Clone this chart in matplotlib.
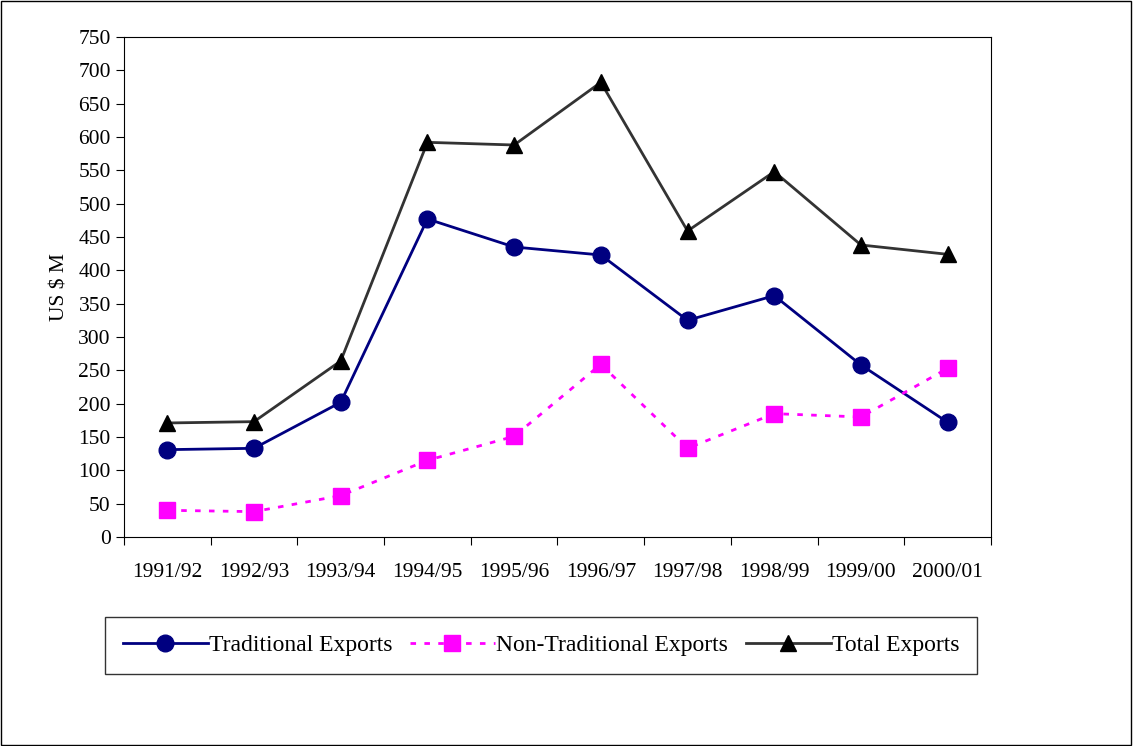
"""
Exports by category, 1991/92 - 2000/01
"""
import numpy as np
import matplotlib

matplotlib.use("Agg")
import matplotlib.pyplot as plt  # noqa:E402
from matplotlib.patches import Rectangle  # noqa:E402

years = ["1991/92", "1992/93", "1993/94", "1994/95", "1995/96",
         "1996/97", "1997/98", "1998/99", "1999/00", "2000/01"]
traditional = [131, 133, 202, 477, 435, 423, 325, 362, 258, 172]
non_traditional = [40, 38, 62, 115, 151, 259, 133, 185, 180, 253]
total = [171, 173, 264, 592, 588, 682, 459, 548, 438, 424]


def main():
    plt.rcParams["font.family"] = ["Liberation Serif", "DejaVu Serif"]

    fig = plt.figure(figsize=(11.33, 7.46), dpi=100)
    ax = fig.add_axes([0.1094, 0.2802, 0.7653, 0.6702])
    x = np.arange(len(years))

    ax.plot(x, traditional, color="#000080", lw=2, marker="o", ms=12,
            label="Traditional Exports")
    ax.plot(x, non_traditional, color="#FF00FF", lw=2, ls=(0, (2, 3)),
            marker="s", ms=11.5, label="Non-Traditional Exports")
    ax.plot(x, total, color="#333333", lw=2, marker="^", ms=12, mfc="black",
            mec="black", label="Total Exports")

    ax.set_xlim(-0.5, len(years) - 0.5)
    ax.set_ylim(0, 750)
    ax.set_yticks(range(0, 751, 50))
    ax.set_xticks(np.arange(-0.5, len(years), 1.0))
    ax.set_xticklabels([])
    ax.set_xticks(x, minor=True)
    ax.set_xticklabels(years, minor=True)
    ax.tick_params(axis="x", which="major", direction="out", length=6)
    ax.tick_params(axis="x", which="minor", length=0, pad=19, labelsize=15.5)
    ax.tick_params(axis="y", direction="out", length=6, labelsize=15.5)
    ax.set_ylabel("US $ M", fontsize=15.5, labelpad=6)

    leg = ax.legend(loc="center", bbox_to_anchor=(0.4775, 0.135),
                    bbox_transform=fig.transFigure, ncol=3, frameon=True,
                    fancybox=False, edgecolor="black", fontsize=17,
                    handlelength=3.6, handletextpad=0.05, columnspacing=0.75,
                    borderpad=0.75)
    leg.get_frame().set_linewidth(1)

    fig.patches.append(Rectangle((0.001, 0.001), 0.997, 0.997, fill=False,
                                 edgecolor="black", lw=1,
                                 transform=fig.transFigure))
    fig.savefig("out.png", dpi=100)
    plt.close(fig)


if __name__ == "__main__":
    main()
